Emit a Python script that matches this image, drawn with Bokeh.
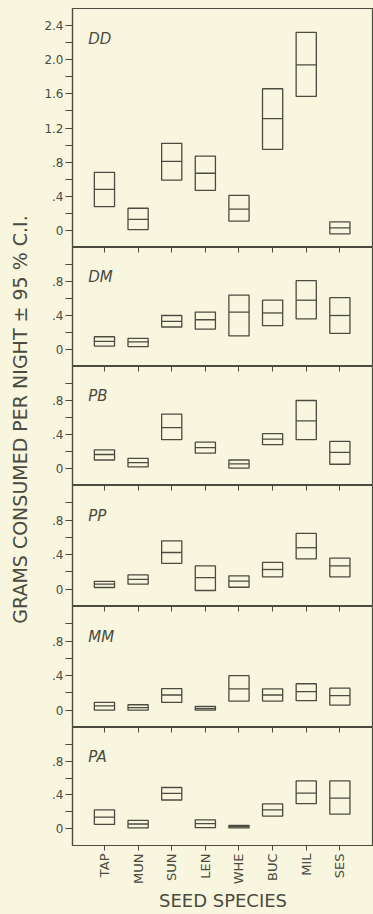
import math
from bokeh.plotting import figure
from bokeh.layouts import column, row
from bokeh.models import (LinearAxis, FixedTicker, Range1d, Label, ColumnDataSource,
                          CustomJSTickFormatter, GlobalInlineStyleSheet, Grid)
from bokeh.embed import file_html
from bokeh.resources import INLINE

# ---------------- data ----------------
species = ["TAP", "MUN", "SUN", "LEN", "WHE", "BUC", "MIL", "SES"]
panel_names = ["DD", "DM", "PB", "PP", "MM", "PA"]

dd_hi   = [0.68, 0.26, 1.02, 0.87, 0.41, 1.66, 2.32, 0.10]
dd_mean = [0.48, 0.13, 0.81, 0.67, 0.25, 1.31, 1.94, 0.03]
dd_lo   = [0.28, 0.01, 0.59, 0.47, 0.11, 0.95, 1.57, -0.04]

dm_hi   = [0.15, 0.13, 0.40, 0.44, 0.64, 0.58, 0.81, 0.61]
dm_mean = [0.095, 0.09, 0.33, 0.35, 0.44, 0.43, 0.58, 0.40]
dm_lo   = [0.04, 0.035, 0.265, 0.24, 0.16, 0.28, 0.36, 0.19]

pb_hi   = [0.22, 0.12, 0.64, 0.31, 0.10, 0.41, 0.80, 0.32]
pb_mean = [0.165, 0.07, 0.48, 0.245, 0.055, 0.345, 0.56, 0.19]
pb_lo   = [0.10, 0.02, 0.34, 0.18, 0.005, 0.28, 0.34, 0.05]

pp_hi   = [0.09, 0.165, 0.56, 0.27, 0.155, 0.31, 0.645, 0.36]
pp_mean = [0.058, 0.115, 0.425, 0.135, 0.093, 0.228, 0.48, 0.27]
pp_lo   = [0.02, 0.058, 0.30, -0.015, 0.023, 0.143, 0.35, 0.143]

mm_hi   = [0.09, 0.063, 0.25, 0.045, 0.40, 0.247, 0.306, 0.255]
mm_mean = [0.05, 0.031, 0.176, 0.02, 0.247, 0.176, 0.216, 0.169]
mm_lo   = [0.0, 0.0, 0.09, 0.0, 0.106, 0.106, 0.11, 0.059]

pa_hi   = [0.223, 0.098, 0.488, 0.105, 0.039, 0.293, 0.566, 0.566]
pa_mean = [0.137, 0.055, 0.418, 0.059, 0.023, 0.223, 0.422, 0.363]
pa_lo   = [0.05, 0.008, 0.34, 0.012, 0.008, 0.148, 0.297, 0.172]

dd_ticks = [0, 0.4, 0.8, 1.2, 1.6, 2.0, 2.4]
dd_minor = [0.2, 0.6, 1.0, 1.4, 1.8, 2.2]
small_ticks = [0, 0.4, 0.8]
small_minor = [0.2, 0.6, 1.0]

y_label = "GRAMS CONSUMED PER NIGHT \u00b1 95 % C.I."
x_label = "SEED SPECIES"

# ---------------- style ----------------
BG = "#f8f6df"
INK = "#4b4b40"
FONT = "DejaVu Sans"

series = [
    (dd_lo, dd_mean, dd_hi),
    (dm_lo, dm_mean, dm_hi),
    (pb_lo, pb_mean, pb_hi),
    (pp_lo, pp_mean, pp_hi),
    (mm_lo, mm_mean, mm_hi),
    (pa_lo, pa_mean, pa_hi),
]
heights = [239, 119, 119, 121, 121, 123]
xs = list(range(1, len(species) + 1))

TOP = 8
LAB_W = 38
PANEL_W = 335
LEFT_BORDER = 34
BOTTOM_EXTRA = 64

y_fmt_code = """
if (Math.abs(tick) < 1e-9) return "0";
var s = tick.toFixed(1);
return s.charAt(0) == "0" ? s.substring(1) : s;
"""

gcss = GlobalInlineStyleSheet(css="html, body { background: %s; }" % BG)


def no_grid(fig):
    for g in fig.select(type=Grid):
        g.visible = False


panels = []
for i, (name, (lo, mean, hi)) in enumerate(zip(panel_names, series)):
    is_dd = i == 0
    is_last = i == len(panel_names) - 1
    yr = Range1d(-0.2, 2.6) if is_dd else Range1d(-0.2, 1.2)
    top_b = TOP if is_dd else 0
    bot_b = BOTTOM_EXTRA if is_last else 0
    p = figure(width=PANEL_W, height=heights[i] + top_b + bot_b,
               x_range=Range1d(0.05, 9.0), y_range=yr,
               x_axis_location=None, y_axis_location=None,
               toolbar_location=None, output_backend="svg",
               min_border_left=LEFT_BORDER, min_border_right=0,
               min_border_top=top_b, min_border_bottom=bot_b)
    no_grid(p)
    p.background_fill_color = BG
    p.border_fill_color = BG
    p.outline_line_color = INK
    p.outline_line_width = 1.2

    src = ColumnDataSource(dict(x=xs, lo=lo, mean=mean, hi=hi))
    p.vbar(x="x", width=0.6, top="hi", bottom="lo", source=src,
           fill_color=None, line_color=INK, line_width=1.3)
    p.dash(x="x", y="mean", size=20, source=src, line_color=INK, line_width=1.3)

    yax = LinearAxis(
        ticker=FixedTicker(ticks=dd_ticks if is_dd else small_ticks,
                           minor_ticks=dd_minor if is_dd else small_minor),
        formatter=CustomJSTickFormatter(code=y_fmt_code),
        major_tick_in=0, major_tick_out=7, minor_tick_in=0, minor_tick_out=7,
        major_tick_line_color=INK, minor_tick_line_color=INK,
        axis_line_color=INK, axis_line_width=1.2,
        major_label_standoff=2,
        major_label_text_font=FONT, major_label_text_font_size="12px",
        major_label_text_color=INK)
    p.add_layout(yax, "left")

    if not is_dd:
        tax = LinearAxis(
            ticker=FixedTicker(ticks=xs, minor_ticks=[]),
            formatter=CustomJSTickFormatter(code="return '';"),
            major_tick_in=5, major_tick_out=0, minor_tick_in=0, minor_tick_out=0,
            major_tick_line_color=INK, axis_line_color=None,
            major_label_standoff=0, major_label_text_font_size="0px")
        p.add_layout(tax, "above")

    if is_last:
        bax = LinearAxis(
            ticker=FixedTicker(ticks=xs, minor_ticks=[]),
            major_label_overrides={x: s for x, s in zip(xs, species)},
            major_label_orientation=math.pi / 2,
            major_tick_in=0, major_tick_out=5, minor_tick_in=0, minor_tick_out=0,
            major_tick_line_color=INK, axis_line_color=INK, axis_line_width=1.2,
            major_label_standoff=3,
            major_label_text_font=FONT, major_label_text_font_size="13px",
            major_label_text_color=INK,
            axis_label=x_label, axis_label_standoff=3,
            axis_label_text_font=FONT, axis_label_text_font_size="18px",
            axis_label_text_font_style="normal", axis_label_text_color=INK)
        p.add_layout(bax, "below")

    p.add_layout(Label(x=0.52, y=2.24 if is_dd else 0.85, text=name,
                       text_font=FONT, text_font_size="15px",
                       text_font_style="italic", text_color=INK,
                       text_baseline="middle", text_align="left"))
    panels.append(p)

total_h = sum(heights) + TOP + BOTTOM_EXTRA
lab = figure(width=LAB_W, height=total_h, x_range=Range1d(0, LAB_W),
             y_range=Range1d(0, total_h),
             x_axis_location=None, y_axis_location=None,
             toolbar_location=None, output_backend="svg",
             min_border_left=0, min_border_right=0,
             min_border_top=0, min_border_bottom=0)
no_grid(lab)
lab.background_fill_color = BG
lab.border_fill_color = BG
lab.outline_line_color = None
lab.add_layout(Label(x=19, y=total_h - 419, text=y_label, angle=math.pi / 2,
                     text_font=FONT, text_font_size="19px", text_color=INK,
                     text_align="center", text_baseline="middle"))

layout = row(lab, column(*panels, spacing=0), spacing=0, stylesheets=[gcss])

open("out.html", "w").write(file_html(layout, INLINE))
